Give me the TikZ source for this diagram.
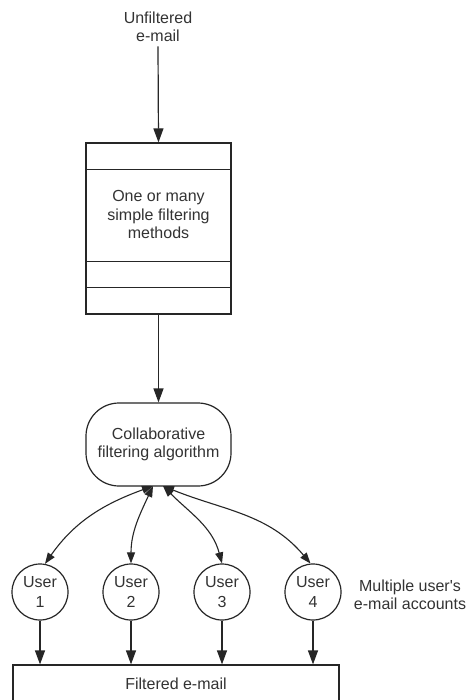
\documentclass[tikz,border=0pt]{standalone}
\usepackage{fontspec}
\setmainfont{Liberation Sans}
\usetikzlibrary{arrows.meta,calc}
\begin{document}
\begin{tikzpicture}[x=1pt,y=1pt,
  lbl/.style={align=center,inner sep=0pt,text=black!80,font=\fontsize{16}{18.5}\selectfont},
  ln/.style={draw=black!85,line width=1.2pt},
  arr/.style={ln,-{Triangle[length=14pt,width=10pt]}},
  darr/.style={ln,line width=1.1pt,{Triangle[length=11pt,width=8pt]}-{Triangle[length=11pt,width=8pt]}},
  usr/.style={ln,circle,minimum size=56pt,inner sep=0pt,align=center,text=black!80,font=\fontsize{16}{20}\selectfont},
  boxstyle/.style={ln,rectangle,inner sep=0pt}
]
\useasboundingbox (0,0) rectangle (467,-700);
\clip (0,0) rectangle (467,-700);
\fill[white] (0,0) rectangle (467,-700);

% input text
\node[lbl] (unf) at (158,-27) {Unfiltered\\e-mail};

% filtering methods box
\node[boxstyle,minimum width=145pt,minimum height=171pt] (methods) at (158.5,-228.5) {};
\draw[ln] ($(methods.north west)+(0,-27)$) -- ($(methods.north east)+(0,-27)$);
\draw[ln] ($(methods.south west)+(0,53)$) -- ($(methods.south east)+(0,53)$);
\draw[ln] ($(methods.south west)+(0,27)$) -- ($(methods.south east)+(0,27)$);
\node[lbl] (mtext) at (158.5,-214.5) {One or many\\simple filtering\\methods};

% collaborative filtering
\node[ln,rectangle,rounded corners=33pt,minimum width=145pt,minimum height=83pt,inner sep=0pt,lbl] (collab) at (158.5,-444.5) {Collaborative\\filtering algorithm};
\coordinate (cL) at (153,-486);
\coordinate (cR) at (163,-486);

% users
\node[usr] (u1) at (40,-592) {User\\1};
\node[usr] (u2) at (131,-592) {User\\2};
\node[usr] (u3) at (222,-592) {User\\3};
\node[usr] (u4) at (313,-592) {User\\4};
\node[lbl] (multi) at (410,-595) {Multiple user\textquotesingle s\\e-mail accounts};

% filtered e-mail
\node[boxstyle,minimum width=326pt,minimum height=38pt,lbl] (filt) at (176,-684) {Filtered e-mail};

% connectors
\draw[arr] ($(unf.south)+(0,-4)$) -- (methods.north);
\draw[arr] (methods.south) -- (collab.north);

\draw[darr] (cL) to[out=200,in=55] (u1.80);
\draw[darr] (cL) to[out=245,in=90] (u2.north);
\draw[darr] (cR) to[out=315,in=105] (u3.north);
\draw[darr] (cR) to[out=338,in=130] (u4.95);

\foreach \u in {u1,u2,u3,u4}{
  \draw[arr] (\u.south) -- (\u.south |- filt.north);
}
\end{tikzpicture}
\end{document}
